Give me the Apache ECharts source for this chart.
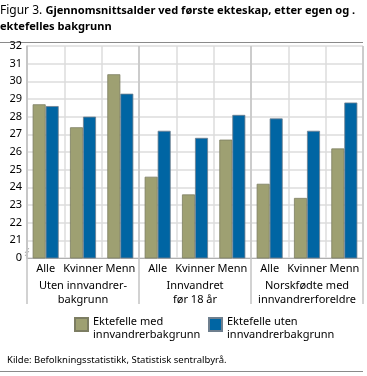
<!DOCTYPE html>
<html>
<head>
<meta charset="utf-8">
<script src="https://cdn.jsdelivr.net/npm/echarts@6/dist/echarts.min.js"></script>
<style>html,body{margin:0;padding:0;background:#fff;}#c{width:367px;height:376px;}</style>
</head>
<body>
<div id="c"></div>
<script>
const categories = ['Alle','Kvinner','Menn','Alle','Kvinner','Menn','Alle','Kvinner','Menn'];
const groups = ['Uten innvandrer-\nbakgrunn','Innvandret\nfør 18 år','Norskfødte med\ninnvandrerforeldre'];
const seriesNames = ['Ektefelle med\ninnvandrerbakgrunn','Ektefelle uten\ninnvandrerbakgrunn'];
const medValues = [28.7, 27.4, 30.4, 24.6, 23.6, 26.7, 24.2, 23.4, 26.2];
const utenValues = [28.6, 28.0, 29.3, 27.2, 26.8, 28.1, 27.9, 27.2, 28.8];
const yTicks = [20,21,22,23,24,25,26,27,28,29,30,31,32];

const FONT = 'Noto Sans';
const legendFmt = name => '{s| }\n' + name.split('\n').map(l => '{t|' + l + '}').join('\n');
const legendText = {fontFamily:FONT,fontSize:11,color:'#000',rich:{
  s:{fontSize:4,lineHeight:8},
  t:{fontFamily:FONT,fontSize:11,color:'#000',lineHeight:12.5}
}};
const chart = echarts.init(document.getElementById('c'), null, {renderer:'canvas'});
chart.setOption({
  animation:false,
  textStyle:{fontFamily:FONT},
  title:[{
    left:0, top:3, padding:0,
    text:'{r|Figur 3. }{b|Gjennomsnittsalder ved første ekteskap, etter egen og .}\n{b|ektefelles bakgrunn}',
    textStyle:{rich:{
      r:{fontFamily:FONT,fontSize:12,fontWeight:'normal',color:'#000',lineHeight:16},
      b:{fontFamily:FONT,fontSize:11.1,fontWeight:'bold',color:'#000',lineHeight:16}
    }}
  },{
    left:2, top:350,
    text:'Kilde: Befolkningsstatistikk, Statistisk sentralbyrå.',
    textStyle:{fontFamily:FONT,fontSize:9.5,fontWeight:'normal',color:'#000'}
  }],
  legend:[{
    data:[seriesNames[0]], left:74, top:310, padding:0, icon:'rect', itemWidth:13, itemHeight:13, itemGap:4,
    formatter:legendFmt, textStyle:legendText
  },{
    data:[seriesNames[1]], left:208, top:310, padding:0, icon:'rect', itemWidth:13, itemHeight:13, itemGap:4,
    formatter:legendFmt, textStyle:legendText
  }],
  grid:{left:27, right:4, top:46, bottom:118, containLabel:false},
  xAxis:[{
    type:'category', data:categories, position:'bottom',
    axisLine:{show:true,lineStyle:{color:'#b0b0b0',width:1}},
    axisTick:{show:false},
    axisLabel:{fontFamily:FONT,fontSize:11,color:'#000',margin:5,interval:0},
    splitLine:{show:true,lineStyle:{color:'#dcdcdc',width:1.5}}
  },{
    type:'category', data:groups, position:'bottom',
    axisLine:{show:false},
    axisTick:{show:true,length:46,lineStyle:{color:'#c4c4c4',width:1.5}},
    axisLabel:{fontFamily:FONT,fontSize:11,color:'#000',margin:21,lineHeight:14,interval:0},
    splitLine:{show:true,lineStyle:{color:'#c4c4c4',width:1.5}}
  }],
  yAxis:{
    type:'value', min:20, max:32, interval:1,
    axisLine:{show:true,lineStyle:{color:'#c4c4c4',width:1.5}},
    axisTick:{show:false},
    axisLabel:{fontFamily:FONT,fontSize:11,color:'#000',margin:5,formatter:v=>v===yTicks[0]?'0':String(v)},
    splitLine:{show:true,lineStyle:{color:'#dcdcdc',width:1.5}}
  },
  series:[{
    name:seriesNames[0], type:'bar', data:medValues, xAxisIndex:0,
    barWidth:13, barGap:'0%',
    itemStyle:{color:'#9ea072',borderColor:'#7c7d62',borderWidth:0.8}
  },{
    name:seriesNames[1], type:'bar', data:utenValues, xAxisIndex:0,
    barWidth:13, barGap:'0%',
    itemStyle:{color:'#0065a3',borderColor:'#6f7f8e',borderWidth:0.8}
  }],
  graphic:[
    {type:'line',shape:{x1:0,y1:42.5,x2:363,y2:42.5},style:{stroke:'#8a8a8a',lineWidth:1}},
    {type:'line',shape:{x1:0,y1:371.5,x2:363,y2:371.5},style:{stroke:'#8a8a8a',lineWidth:1}},
    {type:'line',shape:{x1:25,y1:253,x2:29,y2:248},style:{stroke:'#b0b0b0',lineWidth:1}},
    {type:'line',shape:{x1:25,y1:256,x2:29,y2:251},style:{stroke:'#b0b0b0',lineWidth:1}}
  ]
});
</script>
</body>
</html>
